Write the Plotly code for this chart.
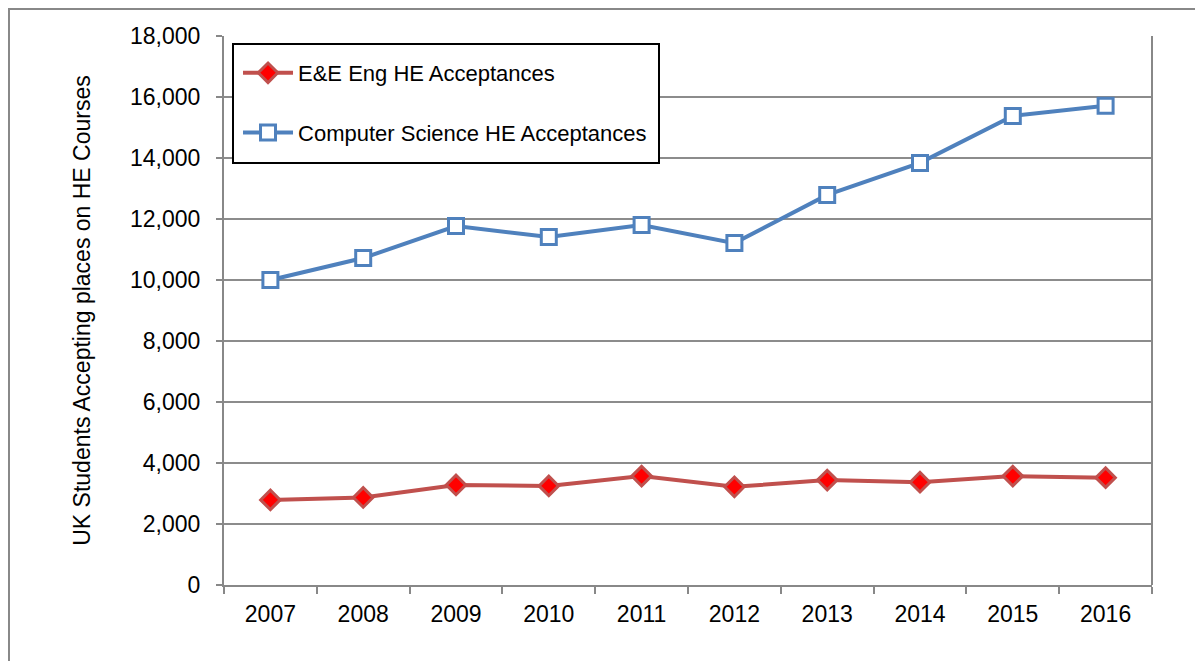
import plotly.graph_objects as go

years = ["2007", "2008", "2009", "2010", "2011", "2012", "2013", "2014", "2015", "2016"]
ee_eng = [2790, 2870, 3280, 3250, 3570, 3220, 3440, 3370, 3570, 3520]
comp_sci = [10000, 10720, 11770, 11410, 11800, 11210, 12790, 13840, 15380, 15710]
y_ticks = [0, 2000, 4000, 6000, 8000, 10000, 12000, 14000, 16000, 18000]

fig = go.Figure()
fig.add_trace(go.Scatter(
    x=years, y=ee_eng, mode="lines+markers", name="E&E Eng HE Acceptances",
    legendgroup="a",
    line=dict(color="#c0504d", width=4),
    marker=dict(symbol="diamond", size=15, color="#ff0000", line=dict(color="#c0504d", width=3)),
))
fig.add_trace(go.Scatter(
    x=years, y=comp_sci, mode="lines+markers", name="Computer Science HE Acceptances",
    legendgroup="b",
    line=dict(color="#4f81bd", width=4),
    marker=dict(symbol="square", size=15, color="white", line=dict(color="#4f81bd", width=3)),
))

fig.update_layout(
    width=1195, height=653,
    margin=dict(l=216, r=51, t=28, b=76),
    paper_bgcolor="white", plot_bgcolor="white",
    font=dict(family="Liberation Sans, Arial", size=22, color="black"),
    showlegend=True,
    legend=dict(
        x=0.0151, y=0.9709, xanchor="left", yanchor="top",
        borderwidth=0, bgcolor="rgba(0,0,0,0)",
        font=dict(size=22), tracegroupgap=28, itemwidth=50,
    ),
    shapes=[
        dict(type="rect", xref="paper", yref="paper",
             x0=-0.2317, x1=1.1, y0=-0.2, y1=1.0492,
             line=dict(color="#888888", width=2), layer="below"),
        dict(type="rect", xref="paper", yref="paper",
             x0=0.0097, x1=0.46875, y0=0.76867, y1=0.98543,
             fillcolor="white", line=dict(color="black", width=2), layer="above"),
    ],
)
fig.update_xaxes(
    type="category", range=[-0.5, 9.5], showline=True, linecolor="#888888", linewidth=2,
    ticks="outside", ticklen=7, tickcolor="#888888", tickwidth=2,
    tickson="boundaries", showgrid=False, mirror=False,
    tickfont=dict(size=23), ticklabelstandoff=7,
)
fig.update_yaxes(
    range=[0, 18000], tickvals=y_ticks, tickformat=",",
    showline=True, linecolor="#888888", linewidth=2, mirror=False,
    ticks="outside", ticklen=6, tickcolor="#888888", tickwidth=2,
    showgrid=True, gridcolor="#8c8c8c", gridwidth=2, zeroline=False,
    title=dict(text="UK Students Accepting places on HE Courses", font=dict(size=23), standoff=33),
    tickfont=dict(size=23), ticklabelstandoff=11,
)
fig.add_shape(type="line", xref="paper", yref="paper", x0=1, x1=1, y0=0, y1=1,
              line=dict(color="#888888", width=2))

fig.write_html("out.html")
